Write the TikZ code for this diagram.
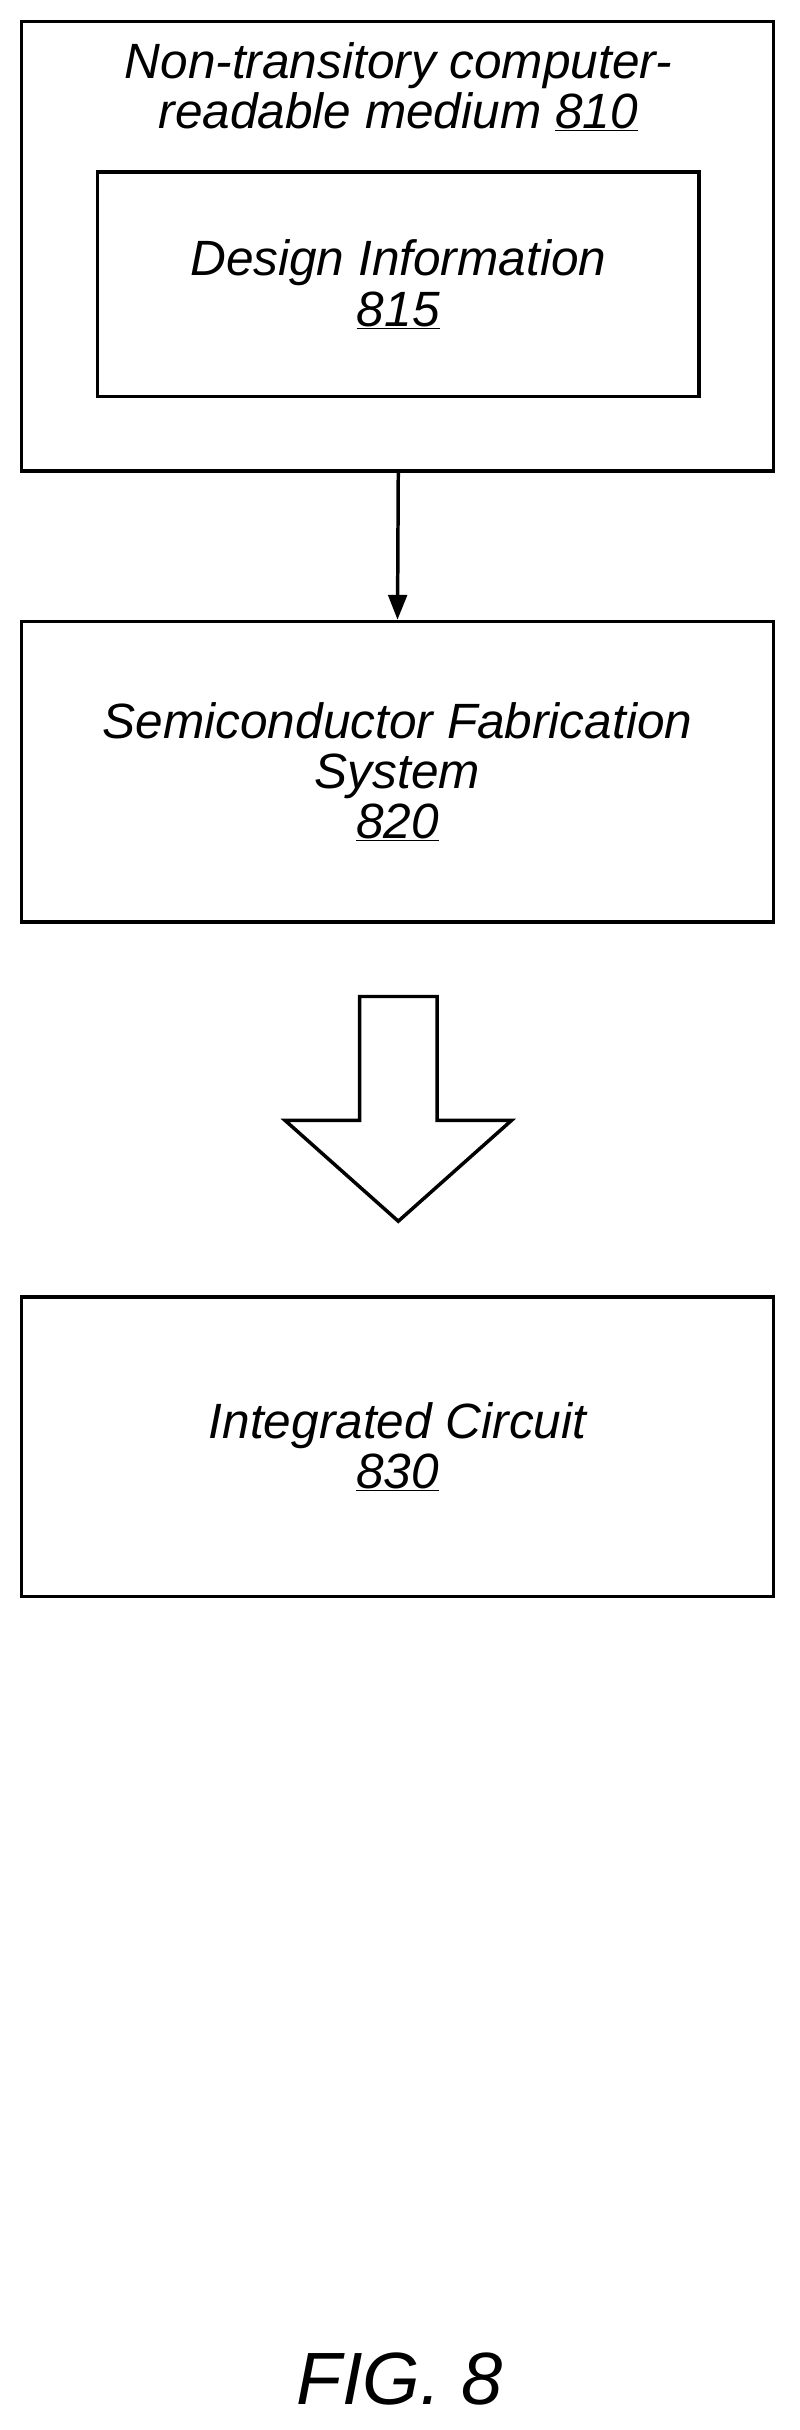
\documentclass[tikz,border=0pt]{standalone}
\usepackage{fontspec}
\setmainfont{Liberation Sans}
\usetikzlibrary{positioning,arrows.meta}

\begin{document}
\begin{tikzpicture}[x=0.05cm,y=-0.05cm,font=\fontsize{45.5}{46}\selectfont\itshape,
  box/.style={draw,line width=3.2pt,align=center}]
  \useasboundingbox (0,0) rectangle (516,1568);
  % boxes
  \draw[line width=3.2pt] (14,14) rectangle (499,304);
  \node at (257,56) [align=center] {Non-transitory computer-\\readable medium \underline{810}};
  \node[box,minimum width=19.4cm,minimum height=7.25cm] (design) at (257,183.5)
    {Design Information\\\underline{815}};
  \coordinate (medium) at (257,304);
  \node[box,minimum width=24.25cm,minimum height=9.7cm] (fab) at (256.5,498)
    {Semiconductor Fabrication\\System\\\underline{820}};
  \node[box,minimum width=24.25cm,minimum height=9.65cm] (ic) at (256.5,933.5)
    {Integrated Circuit\\\underline{830}};
  \draw[line width=3.2pt,-{Stealth[length=0.8cm,width=0.6cm,inset=0pt]}] (medium) -- (fab.north);
  % block arrow
  \draw[line width=3.2pt,line join=miter] (232,643) -- (282,643) -- (282,723) -- (330,723)
    -- (257,788) -- (184,723) -- (232,723) -- cycle;
  \node at (258,1535) {\fontsize{68}{80}\selectfont FIG. 8};
\end{tikzpicture}
\end{document}
